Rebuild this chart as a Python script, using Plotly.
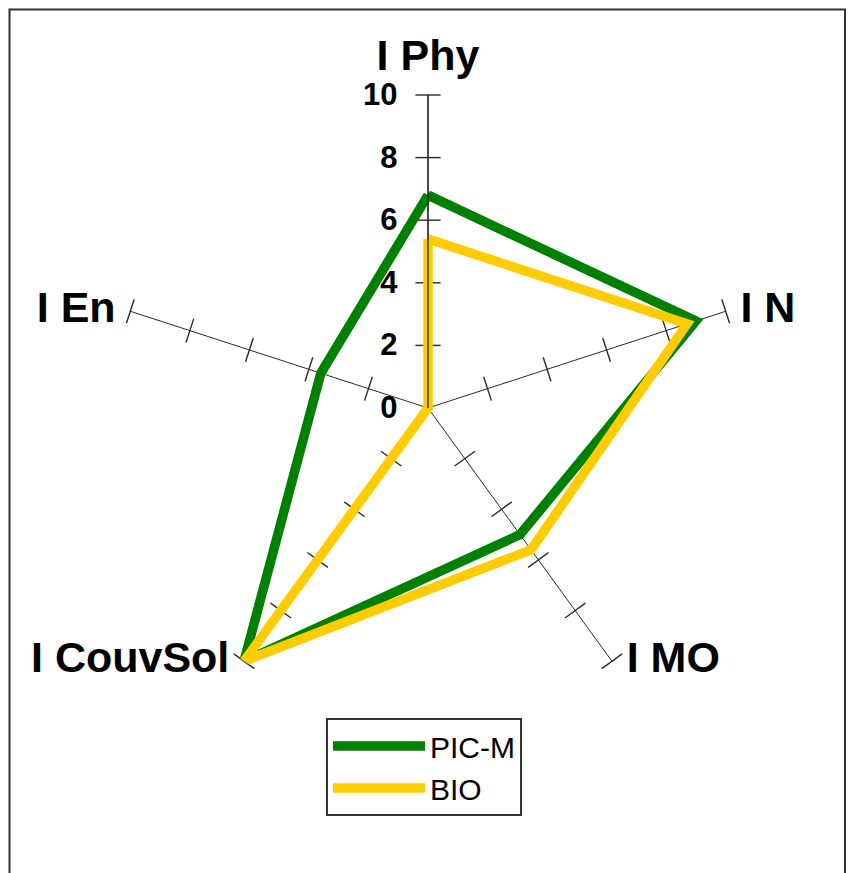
import plotly.graph_objects as go

categories = ["I Phy", "I N", "I MO", "I CouvSol", "I En"]
pic_m = [6.8, 9.0, 5.0, 10.0, 3.6]
bio = [5.4, 8.7, 5.6, 10.0, 0.0]
radial_ticks = [0, 2, 4, 6, 8, 10]
spoke_ticks = [2, 4, 6, 8, 10]
label_positions = ["top center", "middle right", "middle right", "middle left", "middle left"]

FONT = "Liberation Sans"
AX = "#2b2b2b"
OFF = 8  # page body margin in the browser

W, H = 854, 873
cx, cy, R = 428 - OFF, 408 - OFF, 313

fig = go.Figure()

# tick marks crossing every spoke
n = len(categories)
tick_r, tick_theta, tick_ang = [], [], []
for i, c in enumerate(categories):
    for v in spoke_ticks:
        tick_r.append(v)
        tick_theta.append(c)
        tick_ang.append(360.0 * i / n)
fig.add_trace(go.Scatterpolar(
    r=tick_r, theta=tick_theta, mode="markers", showlegend=False,
    hoverinfo="skip",
    marker=dict(symbol="line-ew", size=18, angle=tick_ang,
                line=dict(color=AX, width=1.4)),
))

fig.add_trace(go.Scatterpolar(
    r=pic_m + [pic_m[0]], theta=categories + [categories[0]],
    mode="lines", name="PIC-M",
    line=dict(color="#008000", width=9.5),
))
fig.add_trace(go.Scatterpolar(
    r=bio + [bio[0]], theta=categories + [categories[0]],
    mode="lines", name="BIO",
    line=dict(color="#FFCC00", width=9.5),
))

# category labels at the end of each spoke
fig.add_trace(go.Scatterpolar(
    r=[10] * n, theta=categories, mode="markers+text", text=categories,
    textposition=label_positions, showlegend=False, hoverinfo="skip",
    cliponaxis=False,
    marker=dict(size=22, color="rgba(0,0,0,0)"),
    textfont=dict(family=FONT, size=43, color="black", weight="bold"),
))

fig.update_layout(
    width=W, height=H,
    margin=dict(l=0, r=0, t=0, b=0),
    paper_bgcolor="white",
    showlegend=True,
    polar=dict(
        domain=dict(x=[(cx - R) / W, (cx + R) / W],
                    y=[(H - cy - R) / H, (H - cy + R) / H]),
        bgcolor="white",
        angularaxis=dict(
            direction="clockwise", rotation=90,
            showline=False, showgrid=True, gridcolor=AX, gridwidth=1.4,
            ticks="", showticklabels=False,
        ),
        radialaxis=dict(
            range=[0, 10], tickvals=radial_ticks, angle=90,
            side="counterclockwise",
            showgrid=False, showline=True, linecolor=AX, linewidth=1.4,
            ticks="outside", ticklen=19, tickcolor="rgba(0,0,0,0)",
            tickangle=90,
            tickfont=dict(family=FONT, size=31, color="black", weight="bold"),
        ),
    ),
    legend=dict(
        x=(326 - OFF) / W, y=1 - (718 - OFF) / H, xanchor="left", yanchor="top",
        bgcolor="white", bordercolor="#333333", borderwidth=2,
        itemwidth=92, tracegroupgap=0,
        font=dict(family=FONT, size=30, color="black"),
    ),
    shapes=[dict(type="rect", xref="paper", yref="paper",
                 x0=1.5 / W, x1=(845 - OFF) / W, y0=-0.02, y1=1 - 1.5 / H,
                 line=dict(color="#333333", width=2), layer="below")],
)

fig.write_html("out.html")
